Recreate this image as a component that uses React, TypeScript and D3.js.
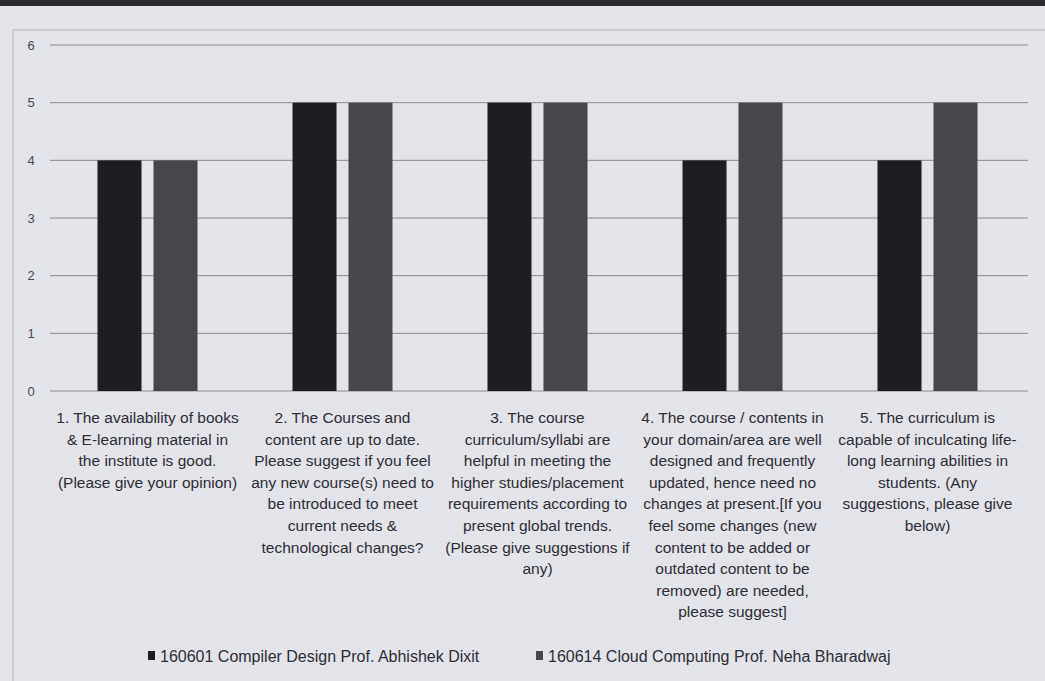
import React from "react";
import * as d3 from "d3";

const categories = ["c1", "c2", "c3", "c4", "c5"];
const categoryLabels: string[][] = [
  ["1. The availability of books", "& E-learning material in", "the institute is good.", "(Please give your opinion)"],
  ["2. The Courses and", "content are up to date.", "Please suggest if you feel", "any new course(s) need to", "be introduced to meet", "current needs &", "technological changes?"],
  ["3. The course", "curriculum/syllabi are", "helpful in meeting the", "higher studies/placement", "requirements according to", "present global trends.", "(Please give suggestions if", "any)"],
  ["4. The course / contents in", "your domain/area are well", "designed and frequently", "updated, hence need no", "changes at present.[If you", "feel some changes (new", "content to be added or", "outdated content to be", "removed) are needed,", "please suggest]"],
  ["5. The curriculum is", "capable of inculcating life-", "long learning abilities in", "students. (Any", "suggestions, please give", "below)"],
];
const seriesNames = ["160601 Compiler Design Prof. Abhishek Dixit", "160614 Cloud Computing  Prof. Neha Bharadwaj"];
const compilerDesign = [4, 5, 5, 4, 4];
const cloudComputing = [4, 5, 5, 5, 5];
const yTicks = [0, 1, 2, 3, 4, 5, 6];

const W = 1045;
const H = 681;
const BG = "#e3e3ea";
const COLORS = ["#1d1e23", "#46474c"];
const FONT = "'Liberation Sans', Arial, sans-serif";

export default function App() {
  const plotLeft = 50;
  const plotRight = 1028;
  const y = d3.scaleLinear().domain([0, 6]).range([391, 45]);
  const x0 = d3.scaleBand<string>().domain(categories).range([50, 1025]).padding(0);
  const bw = x0.bandwidth();
  const x1 = d3
    .scaleBand<string>()
    .domain(["s0", "s1"])
    .range([bw / 2 - 50, bw / 2 + 50])
    .paddingInner(0.214);
  const series = [compilerDesign, cloudComputing];

  const legendItems = [
    { x: 148, name: seriesNames[0] },
    { x: 536, name: seriesNames[1] },
  ];

  return (
    <svg
      width={W}
      height={H}
      style={{ position: "absolute", left: 0, top: 0, display: "block" }}
    >
      <rect x={0} y={0} width={W} height={H} fill={BG} />
      <rect x={0} y={0} width={W} height={6} fill="#2a2a30" />
      {/* chart frame */}
      <line x1={13} x2={W} y1={30} y2={30} stroke="#b4b4ba" strokeWidth={1} />
      <line x1={13} x2={13} y1={30} y2={H} stroke="#b4b4ba" strokeWidth={1} />
      {/* gridlines */}
      {yTicks.map((t) => (
        <g key={t}>
          <line
            x1={plotLeft}
            x2={plotRight}
            y1={y(t)}
            y2={y(t)}
            stroke="#8c8c92"
            strokeWidth={1}
          />
          <text
            x={31}
            y={y(t)}
            dy="0.35em"
            textAnchor="middle"
            fontFamily={FONT}
            fontSize={13}
            fill="#4a4a50"
          >
            {t}
          </text>
        </g>
      ))}
      {/* bars */}
      {categories.map((c, i) => (
        <g key={c} transform={`translate(${x0(c)},0)`}>
          {series.map((s, j) => (
            <rect
              key={j}
              x={x1("s" + j)}
              y={y(s[i])}
              width={x1.bandwidth()}
              height={y(0) - y(s[i])}
              fill={COLORS[j]}
            />
          ))}
        </g>
      ))}
      {/* category labels */}
      {categories.map((c, i) => (
        <text
          key={c}
          x={(x0(c) as number) + bw / 2}
          y={423}
          textAnchor="middle"
          fontFamily={FONT}
          fontSize={15.5}
          fill="#2e2e34"
        >
          {categoryLabels[i].map((line, k) => (
            <tspan key={k} x={(x0(c) as number) + bw / 2} dy={k === 0 ? 0 : 21.6}>
              {line}
            </tspan>
          ))}
        </text>
      ))}
      {/* legend */}
      {legendItems.map((it, j) => (
        <g key={j}>
          <rect x={it.x} y={651} width={7} height={9} fill={COLORS[j]} />
          <text
            x={it.x + 12}
            y={656}
            dy="0.35em"
            fontFamily={FONT}
            fontSize={16}
            fill="#2e2e34"
          >
            {it.name}
          </text>
        </g>
      ))}
    </svg>
  );
}
